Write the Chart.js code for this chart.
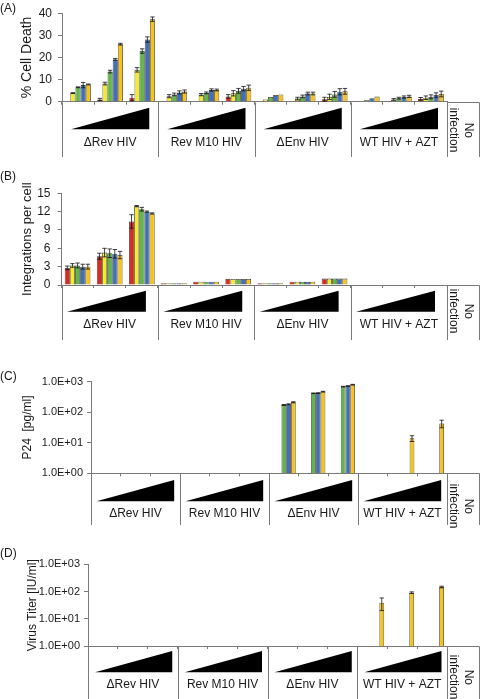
<!DOCTYPE html>
<html><head><meta charset="utf-8">
<script src="https://cdn.jsdelivr.net/npm/chart.js@4.4.1/dist/chart.umd.min.js"></script>
<style>
html,body{margin:0;padding:0;background:#fff;}
#page{position:relative;width:480px;height:699px;overflow:hidden;font-family:'Liberation Sans',Arial,Helvetica,sans-serif;color:#1a1a1a;}
canvas{position:absolute;left:0;}
.plabel{position:absolute;left:0;font-size:12px;line-height:14px;}
.noinf{position:absolute;writing-mode:vertical-rl;font-size:12px;line-height:15px;transform:translate(-50%,-50%);white-space:nowrap;text-align:center;}
</style></head>
<body><div id="page">
<canvas id="cA" width="480" height="160" style="top:0px"></canvas>
<canvas id="cB" width="480" height="182" style="top:160px"></canvas>
<canvas id="cC" width="480" height="186" style="top:342px"></canvas>
<canvas id="cD" width="480" height="171" style="top:528px"></canvas>
<div class="plabel" style="top:1px">(A)</div>
<div class="plabel" style="top:169px">(B)</div>
<div class="plabel" style="top:369px">(C)</div>
<div class="plabel" style="top:546px">(D)</div>
<div class="noinf" style="left:461px;top:130px">No<br>infection</div>
<div class="noinf" style="left:461px;top:311px">No<br>infection</div>
<div class="noinf" style="left:461px;top:506px">No<br>infection</div>
<div class="noinf" style="left:461px;top:677px">No<br>infection</div>
</div>
<script>
// ---------- categories ----------
const groupLabels = ['ΔRev HIV', 'Rev M10 HIV', 'ΔEnv HIV', 'WT HIV + AZT'];
const doseSteps = ['dose 1', 'dose 2', 'dose 3'];
const categories = groupLabels.flatMap(g => doseSteps.map(d => g + ' ' + d));
const seriesNames = ['Series 1', 'Series 2', 'Series 3', 'Series 4', 'Series 5'];

// ---------- (A) % Cell Death ----------
const deathS1 = [0, 1.0, 1.8, 0, 0, 2.4, 0, 0.3, 1.1, 0, 0.3, 1.3];
const deathS2 = [3.9, 8.2, 14.4, 2.5, 3.2, 3.8, 1.0, 1.4, 2.2, 0.3, 1.0, 1.8];
const deathS3 = [6.5, 13.6, 22.9, 3.3, 4.0, 4.9, 2.1, 2.4, 3.3, 0.8, 1.6, 2.2];
const deathS4 = [7.5, 19.1, 28.1, 4.2, 5.3, 5.9, 3.0, 3.7, 4.5, 1.6, 2.1, 3.0];
const deathS5 = [7.8, 26.0, 37.3, 4.6, 5.3, 6.3, 3.3, 3.7, 4.7, 2.3, 2.4, 3.5];
const deathErr1 = [0, 0.5, 1.4, 0, 0, 0.8, 0, 0, 0.9, 0, 0, 0.6];
const deathErr2 = [0.2, 0.6, 1.0, 0.7, 0.5, 1.2, 0, 0.6, 1.2, 0, 0.4, 0.8];
const deathErr3 = [0.2, 0.6, 1.0, 0.6, 0.4, 1.1, 0, 0.6, 1.3, 0, 0.4, 0.9];
const deathErr4 = [1.2, 0.4, 1.2, 0.7, 0.5, 1.0, 0, 0.6, 1.4, 0, 0.5, 1.0];
const deathErr5 = [0.2, 0.4, 1.0, 0.7, 0.4, 1.2, 0, 0.6, 1.3, 0, 0.5, 1.3];

// ---------- (B) Integrations per cell ----------
const integS1 = [2.8, 4.7, 10.4, 0.3, 0.55, 1.0, 0.3, 0.55, 1.05, 0, 0, 0];
const integS2 = [3.2, 5.3, 12.9, 0.3, 0.55, 1.0, 0.3, 0.55, 1.05, 0, 0, 0];
const integS3 = [3.2, 5.2, 12.4, 0.3, 0.55, 1.0, 0.3, 0.55, 1.05, 0, 0, 0];
const integS4 = [3.0, 5.1, 12.0, 0.3, 0.55, 1.0, 0.3, 0.55, 1.05, 0, 0, 0];
const integS5 = [3.0, 4.9, 11.7, 0.3, 0.55, 1.0, 0.3, 0.55, 1.05, 0, 0, 0];
const integErr1 = [0.3, 0.5, 1.1, 0, 0, 0, 0, 0, 0, 0, 0, 0];
const integErr2 = [0.3, 0.7, 0.1, 0, 0, 0, 0, 0, 0, 0, 0, 0];
const integErr3 = [0.4, 0.7, 0.3, 0, 0, 0, 0, 0, 0, 0, 0, 0];
const integErr4 = [0.4, 0.7, 0.1, 0, 0, 0, 0, 0, 0, 0, 0, 0];
const integErr5 = [0.4, 0.6, 0.1, 0, 0, 0, 0, 0, 0, 0, 0, 0];

// ---------- (C) P24 [pg/ml] (log) ----------
const p24S1 = [null, null, null, null, null, null, null, null, null, null, null, null];
const p24S2 = [null, null, null, null, null, null, null, null, 1.05, null, null, null];
const p24S3 = [null, null, null, null, null, null, 173, 417, 690, null, null, null];
const p24S4 = [null, null, null, null, null, null, 182, 425, 725, null, null, null];
const p24S5 = [null, null, null, null, null, null, 212, 472, 800, null, 14, 43];
const p24Err3 = [0, 0, 0, 0, 0, 0, 6, 10, 15, 0, 0, 0];
const p24Err4 = [0, 0, 0, 0, 0, 0, 6, 10, 15, 0, 0, 0];
const p24Err5 = [0, 0, 0, 0, 0, 0, 8, 12, 18, 0, 3, 12];

// ---------- (D) Virus Titer [IU/ml] (log) ----------
const titerS1 = [null, null, null, null, null, null, null, null, null, null, null, null];
const titerS2 = [null, null, null, null, null, null, null, null, null, null, null, null];
const titerS3 = [null, null, null, null, null, null, null, null, null, null, null, null];
const titerS4 = [null, null, null, null, null, null, null, null, null, null, null, null];
const titerS5 = [null, null, null, null, null, null, null, null, null, 39, 91, 147];
const titerErr5 = [0, 0, 0, 0, 0, 0, 0, 0, 0, 19, 6, 10];

// ---------- tick labels ----------
const logTickValues = [1, 10, 100, 1000];
const logTickLabels = ['1.0E+00', '1.0E+01', '1.0E+02', '1.0E+03'];

// ---------- styles ----------
const seriesColors = ['#e2271f', '#f3ec2b', '#62b649', '#4170b8', '#f6c31d'];
const axisColor = '#7a7a7a';
const textColor = '#1a1a1a';
const FONT = "'Liberation Sans', Arial, Helvetica, sans-serif";

function decorPlugin(spec) {
  return {
    id: 'decor',
    afterDatasetsDraw(chart) {
      const ctx = chart.ctx, ys = chart.scales.y;
      ctx.save();
      ctx.strokeStyle = '#111';
      ctx.lineWidth = 0.8;
      chart.data.datasets.forEach((ds, i) => {
        if (!ds.errors) return;
        const meta = chart.getDatasetMeta(i);
        meta.data.forEach((bar, j) => {
          const v = ds.data[j], e = ds.errors[j];
          if (v == null || !e) return;
          const hi = ys.getPixelForValue(v + e);
          const lowVal = spec.log ? Math.max(v - e, 1) : Math.max(v - e, 0);
          const lo = ys.getPixelForValue(lowVal);
          const cw = 2.2;
          ctx.beginPath();
          ctx.moveTo(bar.x, hi); ctx.lineTo(bar.x, lo);
          ctx.moveTo(bar.x - cw, hi); ctx.lineTo(bar.x + cw, hi);
          ctx.moveTo(bar.x - cw, lo); ctx.lineTo(bar.x + cw, lo);
          ctx.stroke();
        });
      });
      ctx.restore();
    },
    afterDraw(chart) {
      const ctx = chart.ctx, a = chart.chartArea;
      const n = chart.data.labels.length;
      const catW = (a.right - a.left) / n;
      const base = Math.round(a.bottom) + 0.5;
      const groups = groupLabels.length;
      const perGroup = n / groups;
      ctx.save();
      ctx.strokeStyle = axisColor;
      ctx.lineWidth = 1;
      ctx.beginPath();
      ctx.moveTo(a.right, base); ctx.lineTo(spec.frameRight + 0.5, base);
      for (let k = 0; k <= groups; k++) {
        const xx = Math.round(a.left + k * perGroup * catW) + 0.5;
        ctx.moveTo(xx, base); ctx.lineTo(xx, spec.sepBottom);
      }
      const fr = Math.round(spec.frameRight) + 0.5;
      ctx.moveTo(fr, base); ctx.lineTo(fr, spec.sepBottom);
      ctx.stroke();
      // dose wedges
      ctx.fillStyle = '#000';
      for (let g = 0; g < groups; g++) {
        const gl = a.left + g * perGroup * catW;
        const gr = gl + perGroup * catW;
        ctx.beginPath();
        ctx.moveTo(gl + spec.tri.l, a.bottom + spec.tri.bot);
        ctx.lineTo(gr - spec.tri.r, a.bottom + spec.tri.bot);
        ctx.lineTo(gr - spec.tri.r, a.bottom + spec.tri.top);
        ctx.closePath();
        ctx.fill();
      }
      ctx.restore();
    }
  };
}

function buildPanel(id, spec) {
  const canvas = document.getElementById(id);
  const datasets = spec.series.map((s, i) => ({
    label: seriesNames[i],
    data: s,
    errors: spec.errors[i],
    backgroundColor: seriesColors[i],
    borderColor: '#3a3a3a',
    borderWidth: 0.8,
    categoryPercentage: 0.8,
    barPercentage: 1.0
  }));

  const yScale = spec.log ? {
    type: 'logarithmic', min: 1, max: 1000,
    afterBuildTicks: s => { s.ticks = logTickValues.map(v => ({ value: v })); },
    ticks: {
      callback: v => { const k = logTickValues.indexOf(v); return k >= 0 ? logTickLabels[k] : ''; },
      font: { family: FONT, size: spec.tickSize }, color: textColor, padding: spec.yTickPad,
      autoSkip: false
    }
  } : {
    type: 'linear', min: spec.yMin, max: spec.yMax,
    ticks: { stepSize: spec.yStep, font: { family: FONT, size: spec.tickSize }, color: textColor, padding: spec.yTickPad }
  };
  Object.assign(yScale, {
    grid: { display: true, drawOnChartArea: false, drawTicks: true, tickLength: 4, color: axisColor },
    border: { display: true, color: axisColor, width: 1 },
    title: { display: true, text: spec.yTitle, font: { family: FONT, size: spec.titleSize }, color: textColor, padding: { top: spec.titlePad, bottom: 0 } },
    afterFit: s => { s.width = spec.left; }
  });

  return new Chart(canvas, {
    type: 'bar',
    data: { labels: categories, datasets },
    options: {
      responsive: false,
      animation: false,
      devicePixelRatio: 1,
      layout: { padding: { left: 0, right: 480 - spec.right, top: spec.top, bottom: 0 } },
      plugins: { legend: { display: false }, tooltip: { enabled: false } },
      scales: {
        x: {
          type: 'category',
          offset: true,
          grid: { display: true, drawOnChartArea: false, drawTicks: true, tickLength: 3, offset: true, color: axisColor },
          border: { display: true, color: axisColor, width: 1 },
          ticks: {
            autoSkip: false, maxRotation: 0, minRotation: 0,
            padding: spec.labelPad,
            font: { family: FONT, size: 12 }, color: textColor,
            callback: (v, i) => (i % 3 === 1 ? groupLabels[(i - 1) / 3] : '')
          },
          afterFit: s => { s.height = spec.height - spec.bottom; }
        },
        y: yScale
      }
    },
    plugins: [decorPlugin(spec)]
  });
}

buildPanel('cA', {
  series: [deathS1, deathS2, deathS3, deathS4, deathS5],
  errors: [deathErr1, deathErr2, deathErr3, deathErr4, deathErr5],
  log: false, yMin: 0, yMax: 40, yStep: 10,
  yTitle: '% Cell Death', titleSize: 14, titlePad: 18.6, tickSize: 12, yTickPad: 6,
  height: 160, left: 62, right: 447, top: 9.3, bottom: 101.7,
  sepBottom: 157, frameRight: 479, labelPad: 30.8,
  tri: { l: 9, r: 9, top: 6, bot: 27.6 }
});

buildPanel('cB', {
  series: [integS1, integS2, integS3, integS4, integS5],
  errors: [integErr1, integErr2, integErr3, integErr4, integErr5],
  log: false, yMin: 0, yMax: 15, yStep: 3,
  yTitle: 'Integrations per cell', titleSize: 13, titlePad: 20, tickSize: 12, yTickPad: 7,
  height: 182, left: 61.5, right: 447, top: 33.3, bottom: 125,
  sepBottom: 180, frameRight: 479, labelPad: 29.1,
  tri: { l: 5.5, r: 12, top: 5.7, bot: 26.7 }
});

buildPanel('cC', {
  series: [p24S1, p24S2, p24S3, p24S4, p24S5],
  errors: [null, null, p24Err3, p24Err4, p24Err5],
  log: true,
  yTitle: 'P24  [pg/ml]', titleSize: 12, titlePad: 20, tickSize: 11, yTickPad: 4,
  height: 186, left: 91, right: 447, top: 39.7, bottom: 131.3,
  sepBottom: 183, frameRight: 479, labelPad: 29.8,
  tri: { l: 5.5, r: 5.8, top: 6.7, bot: 28 }
});

buildPanel('cD', {
  series: [titerS1, titerS2, titerS3, titerS4, titerS5],
  errors: [null, null, null, null, titerErr5],
  log: true,
  yTitle: 'Virus Titer [IU/ml]', titleSize: 12, titlePad: 25, tickSize: 11, yTickPad: 4,
  height: 171, left: 88, right: 447, top: 36.3, bottom: 118,
  sepBottom: 171, frameRight: 479, labelPad: 28.1,
  tri: { l: 7, r: 5.5, top: 5, bot: 26.3 }
});
</script>
</body></html>
